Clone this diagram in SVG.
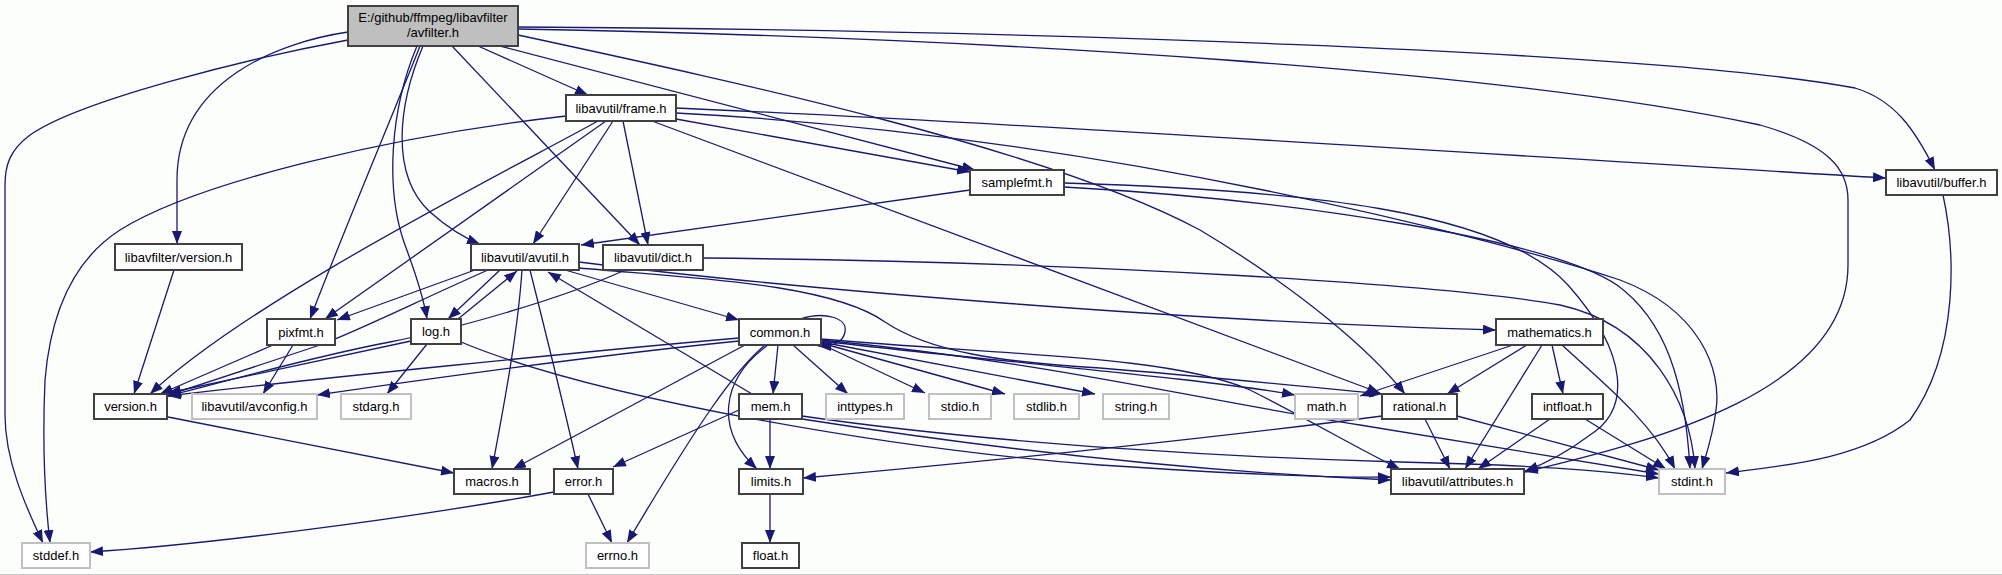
<svg xmlns="http://www.w3.org/2000/svg" width="2002" height="575" viewBox="0 0 2002 575">
<defs>
<marker id="ah" markerUnits="userSpaceOnUse" markerWidth="14" markerHeight="10" refX="13" refY="5" orient="auto">
<path d="M0,0 L13,5 L0,10 z" fill="#191970"/>
</marker>
<style>
.n rect{fill:#ffffff;stroke:#404040;stroke-width:2}
.g rect{fill:#ffffff;stroke:#c0c0c0;stroke-width:2}
.root rect{fill:#bfbfbf;stroke:#404040;stroke-width:2}
text{font-family:"Liberation Sans",Arial,sans-serif;font-size:13px;fill:#000;text-anchor:middle}
#edges path{fill:none;stroke:#191970;stroke-width:1.3;marker-end:url(#ah)}
</style>
</defs>
<rect x="0" y="0" width="2002" height="575" fill="#fcfefc"/>
<line x1="0" y1="574.5" x2="2002" y2="574.5" stroke="#c8c8c8" stroke-width="1"/>
<g id="edges">
<path d="M348,40 C250,58 80,100 30,135 C10,150 5,165 5,185 L5,415 C5,460 25,505 43,543"/>
<path d="M348,32 C280,42 177,80 177,180 L177,244"/>
<path d="M420,46 C405,85 340,240 310,319"/>
<path d="M417,46 C390,110 385,190 405,245 C418,280 424,300 427,319"/>
<path d="M423,46 C398,105 390,175 430,212 C448,228 462,237 480,244"/>
<path d="M478,46 L588,95"/>
<path d="M452,46 L640,245"/>
<path d="M500,46 L975,170"/>
<path d="M518,35 C750,85 1050,150 1200,230 C1300,290 1370,350 1405,394"/>
<path d="M518,29 C1000,38 1500,70 1760,125 C1830,145 1848,170 1848,200 L1848,265 C1848,390 1660,440 1525,472"/>
<path d="M518,27 C1000,30 1650,50 1855,88 C1895,100 1915,130 1935,170"/>
<path d="M566,116 C400,135 200,180 120,230 C70,262 50,320 45,380 C42,450 45,500 50,543"/>
<path d="M598,121 C500,175 250,300 150,394"/>
<path d="M606,121 L325,319"/>
<path d="M613,121 L533,244"/>
<path d="M623,121 L648,245"/>
<path d="M676,119 L970,172"/>
<path d="M652,121 L1380,393"/>
<path d="M676,108 C1000,122 1500,155 1886,178"/>
<path d="M676,113 C1100,135 1500,240 1620,280 C1700,310 1722,370 1716,410 C1713,435 1706,455 1702,469"/>
<path d="M970,190 L581,245"/>
<path d="M1064,183 C1300,190 1500,210 1568,285 C1630,355 1630,410 1590,435 C1570,450 1550,462 1525,471"/>
<path d="M1064,187 C1300,200 1550,240 1617,285 C1665,320 1685,380 1690,469"/>
<path d="M1943,195 C1955,250 1960,350 1910,420 C1860,460 1780,466 1726,473"/>
<path d="M703,258 C1100,262 1450,285 1560,305 C1650,325 1690,400 1695,469"/>
<path d="M625,270 C560,300 450,330 390,342 C320,355 230,380 168,396"/>
<path d="M174,270 L134,394"/>
<path d="M565,270 L739,320"/>
<path d="M530,270 C545,330 565,410 578,469"/>
<path d="M579,268 C690,278 830,283 885,322 C930,352 1000,362 1100,368 C1200,376 1300,386 1382,394"/>
<path d="M488,270 C420,300 360,330 320,345 C260,365 200,385 168,395"/>
<path d="M522,270 C518,330 505,400 492,469"/>
<path d="M579,262 C800,290 1200,322 1496,330"/>
<path d="M500,270 L448,319"/>
<path d="M475,270 L337,320"/>
<path d="M458,319 L517,271"/>
<path d="M411,341 L168,393"/>
<path d="M427,344 L387,394"/>
<path d="M461,342 C600,400 900,450 1100,465 C1250,475 1330,478 1391,477"/>
<path d="M273,345 L160,394"/>
<path d="M293,345 L263,394"/>
<path d="M800,319 C825,311 848,318 845,332 C843,342 835,346 818,346"/>
<path d="M739,338 C600,350 300,380 168,396"/>
<path d="M739,341 C600,355 420,380 317,395"/>
<path d="M745,345 L513,469"/>
<path d="M778,345 L773,394"/>
<path d="M793,345 L848,394"/>
<path d="M821,344 L925,393"/>
<path d="M821,343 L1005,394"/>
<path d="M821,342 L1095,394"/>
<path d="M821,341 C1000,362 1200,378 1295,395"/>
<path d="M765,345 C735,370 700,420 627,543"/>
<path d="M768,345 C720,380 715,430 757,469"/>
<path d="M821,339 C1000,355 1170,355 1250,390 C1310,420 1360,450 1400,469"/>
<path d="M821,340 C1050,362 1200,400 1360,425 C1500,447 1600,465 1659,474"/>
<path d="M752,394 L548,272"/>
<path d="M739,410 L613,467"/>
<path d="M770,419 L770,469"/>
<path d="M802,416 C1000,445 1250,458 1400,462 C1530,465 1600,470 1659,478"/>
<path d="M802,419 C1000,450 1200,472 1391,480"/>
<path d="M1513,345 L1360,396"/>
<path d="M1527,345 L1447,394"/>
<path d="M1552,345 L1563,394"/>
<path d="M1542,345 L1465,469"/>
<path d="M1562,345 C1600,380 1650,420 1675,469"/>
<path d="M1550,419 L1478,469"/>
<path d="M1585,419 L1666,469"/>
<path d="M1382,416 C1200,440 950,465 803,478"/>
<path d="M1425,419 L1450,469"/>
<path d="M1457,416 L1659,470"/>
<path d="M168,417 L454,473"/>
<path d="M588,494 L612,543"/>
<path d="M554,492 C400,520 200,545 90,552"/>
<path d="M770,494 L770,543"/>
</g>
<g id="avfilter" class="root"><rect x="348" y="6" width="170" height="40"/><text x="433" y="21.5">E:/github/ffmpeg/libavfilter</text><text x="433" y="36.5">/avfilter.h</text></g>
<g id="lavfi_version" class="n"><rect x="115" y="244" width="127" height="26"/><text x="178.5" y="261.5">libavfilter/version.h</text></g>
<g id="frame" class="n"><rect x="566" y="95" width="110" height="26"/><text x="621" y="112.5">libavutil/frame.h</text></g>
<g id="dict" class="n"><rect x="603" y="245" width="100" height="25"/><text x="653" y="262">libavutil/dict.h</text></g>
<g id="avutil" class="n"><rect x="471" y="244" width="108" height="26"/><text x="525" y="261.5">libavutil/avutil.h</text></g>
<g id="samplefmt" class="n"><rect x="970" y="170" width="94" height="25"/><text x="1017" y="187">samplefmt.h</text></g>
<g id="buffer" class="n"><rect x="1886" y="170" width="111" height="25"/><text x="1941.5" y="187">libavutil/buffer.h</text></g>
<g id="pixfmt" class="n"><rect x="267" y="319" width="68" height="26"/><text x="301" y="336.5">pixfmt.h</text></g>
<g id="log" class="n"><rect x="411" y="319" width="50" height="25"/><text x="436" y="336">log.h</text></g>
<g id="common" class="n"><rect x="739" y="319" width="82" height="26"/><text x="780" y="336.5">common.h</text></g>
<g id="mathematics" class="n"><rect x="1496" y="319" width="107" height="26"/><text x="1549.5" y="336.5">mathematics.h</text></g>
<g id="version" class="n"><rect x="94" y="394" width="73" height="25"/><text x="130.5" y="411">version.h</text></g>
<g id="avconfig" class="g"><rect x="192" y="394" width="125" height="25"/><text x="254.5" y="411">libavutil/avconfig.h</text></g>
<g id="stdarg" class="g"><rect x="341" y="394" width="70" height="25"/><text x="376" y="411">stdarg.h</text></g>
<g id="mem" class="n"><rect x="739" y="394" width="63" height="25"/><text x="770.5" y="411">mem.h</text></g>
<g id="inttypes" class="g"><rect x="826" y="394" width="78" height="25"/><text x="865" y="411">inttypes.h</text></g>
<g id="stdio" class="g"><rect x="929" y="394" width="62" height="25"/><text x="960" y="411">stdio.h</text></g>
<g id="stdlib" class="g"><rect x="1014" y="394" width="65" height="25"/><text x="1046.5" y="411">stdlib.h</text></g>
<g id="string" class="g"><rect x="1103" y="394" width="66" height="25"/><text x="1136" y="411">string.h</text></g>
<g id="math" class="g"><rect x="1295" y="394" width="63" height="25"/><text x="1326.5" y="411">math.h</text></g>
<g id="rational" class="n"><rect x="1382" y="394" width="75" height="25"/><text x="1419.5" y="411">rational.h</text></g>
<g id="intfloat" class="n"><rect x="1532" y="394" width="71" height="25"/><text x="1567.5" y="411">intfloat.h</text></g>
<g id="macros" class="n"><rect x="454" y="469" width="76" height="25"/><text x="492" y="486">macros.h</text></g>
<g id="error" class="n"><rect x="554" y="469" width="59" height="25"/><text x="583.5" y="486">error.h</text></g>
<g id="limits" class="n"><rect x="739" y="469" width="64" height="25"/><text x="771" y="486">limits.h</text></g>
<g id="attributes" class="n"><rect x="1391" y="469" width="133" height="25"/><text x="1457.5" y="486">libavutil/attributes.h</text></g>
<g id="stdint" class="g"><rect x="1659" y="469" width="66" height="25"/><text x="1692" y="486">stdint.h</text></g>
<g id="stddef" class="g"><rect x="22" y="543" width="68" height="25"/><text x="56" y="560">stddef.h</text></g>
<g id="errno" class="g"><rect x="586" y="543" width="63" height="25"/><text x="617.5" y="560">errno.h</text></g>
<g id="float" class="n"><rect x="742" y="543" width="57" height="25"/><text x="770.5" y="560">float.h</text></g>
</svg>
